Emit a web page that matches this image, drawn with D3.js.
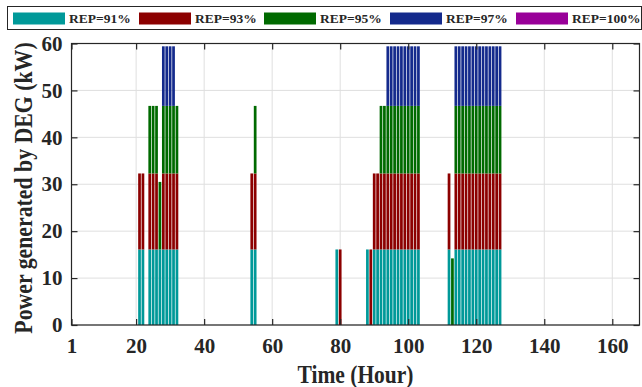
<!DOCTYPE html>
<html>
<head>
<meta charset="utf-8">
<script src="https://cdn.jsdelivr.net/npm/d3@7/dist/d3.min.js"></script>
<style>
  html, body { margin: 0; padding: 0; background: #fff; }
  svg { display: block; }
  text { font-family: "Liberation Serif", "Times New Roman", serif; font-weight: bold; fill: #262626; }
</style>
</head>
<body>
<svg id="chart" width="642" height="387"></svg>
<script>
// ---- data ----
const hours = [21,22,24,25,26,27,28,29,30,31,32,
               54,55,
               79,80,
               88,89,90,91,92,93,94,95,96,97,98,99,100,101,102,103,
               112,113,114,115,116,117,118,119,120,121,122,123,124,125,126,127];
const rep91 = [16.1,16.1,16.1,16.1,16.1,16.1,16.1,16.1,16.1,16.1,16.1,
               16.1,16.1,
               16.1,0,
               16.1,0,16.1,16.1,16.1,16.1,16.1,16.1,16.1,16.1,16.1,16.1,16.1,16.1,16.1,16.1,
               16.1,0,16.1,16.1,16.1,16.1,16.1,16.1,16.1,16.1,16.1,16.1,16.1,16.1,16.1,16.1];
const rep93 = [16.2,16.2,16.2,16.2,16.2,0,16.2,16.2,16.2,16.2,16.2,
               16.2,16.2,
               0,16.1,
               0,16.1,16.2,16.2,16.2,16.2,16.2,16.2,16.2,16.2,16.2,16.2,16.2,16.2,16.2,16.2,
               16.2,0,16.2,16.2,16.2,16.2,16.2,16.2,16.2,16.2,16.2,16.2,16.2,16.2,16.2,16.2];
const rep95 = [0,0,14.4,14.4,14.4,14.4,14.4,14.4,14.4,14.4,14.4,
               0,14.4,
               0,0,
               0,0,0,0,14.4,14.4,14.4,14.4,14.4,14.4,14.4,14.4,14.4,14.4,14.4,14.4,
               0,14.2,14.4,14.4,14.4,14.4,14.4,14.4,14.4,14.4,14.4,14.4,14.4,14.4,14.4,14.4];
const rep97 = [0,0,0,0,0,0,12.7,12.7,12.7,12.7,0,
               0,0,
               0,0,
               0,0,0,0,0,0,12.7,12.7,12.7,12.7,12.7,12.7,12.7,12.7,12.7,12.7,
               0,0,12.7,12.7,12.7,12.7,12.7,12.7,12.7,12.7,12.7,12.7,12.7,12.7,12.7,12.7];
const rep100 = [0,0,0,0,0,0,0,0,0,0,0,
                0,0,
                0,0,
                0,0,0,0,0,0,0,0,0,0,0,0,0,0,0,0,
                0,0,0,0,0,0,0,0,0,0,0,0,0,0,0,0];
const seriesNames = ["REP=91%","REP=93%","REP=95%","REP=97%","REP=100%"];
const seriesColors = ["#009999","#8c0000","#006a00","#142a8c","#990099"];
const xTicks = [1,20,40,60,80,100,120,140,160];
const yTicks = [0,10,20,30,40,50,60];
const xLabel = "Time (Hour)";
const yLabel = "Power generated by DEG (kW)";

// ---- layout ----
const svg = d3.select("#chart");
const L = 71.5, R = 639.5, T = 43.5, B = 325;
const x = d3.scaleLinear().domain([1,168]).range([L,R]);
const y = d3.scaleLinear().domain([0,60]).range([B,T]);
const axisColor = "#262626";

// table for stacking
const seriesVals = [rep91, rep93, rep95, rep97, rep100];
const table = hours.map((h,i) => {
  const o = {hour: h};
  seriesNames.forEach((n,k) => o[n] = seriesVals[k][i]);
  return o;
});
const stacked = d3.stack().keys(seriesNames)(table);

// grid
const grid = svg.append("g");
grid.selectAll(".gx").data(xTicks).enter().append("line")
  .attr("x1", d => x(d)).attr("x2", d => x(d)).attr("y1", T).attr("y2", B)
  .attr("stroke", "#dfdfdf").attr("stroke-width", 1);
grid.selectAll(".gy").data(yTicks).enter().append("line")
  .attr("x1", L).attr("x2", R).attr("y1", d => y(d)).attr("y2", d => y(d))
  .attr("stroke", "#dfdfdf").attr("stroke-width", 1);

// bars
const bw = (x(2) - x(1)) * 0.8;
svg.append("g").selectAll("g").data(stacked).enter().append("g")
  .attr("fill", (d,i) => seriesColors[i])
  .selectAll("rect").data(d => d.filter(p => p[1] - p[0] > 0)).enter().append("rect")
  .attr("x", d => x(d.data.hour) - bw/2)
  .attr("width", bw)
  .attr("y", d => y(d[1]))
  .attr("height", d => y(d[0]) - y(d[1]));

// axes box
svg.append("rect").attr("x", L).attr("y", T).attr("width", R-L).attr("height", B-T)
  .attr("fill", "none").attr("stroke", axisColor).attr("stroke-width", 1.2);

// inward ticks via d3 axes
const tl = 6;
const axB = svg.append("g").attr("transform", `translate(0,${B})`)
  .call(d3.axisBottom(x).tickValues(xTicks).tickSize(-tl).tickPadding(13).tickFormat(d3.format("d")));
const axT = svg.append("g").attr("transform", `translate(0,${T})`)
  .call(d3.axisTop(x).tickValues(xTicks).tickSize(-tl).tickFormat(""));
const axL = svg.append("g").attr("transform", `translate(${L},0)`)
  .call(d3.axisLeft(y).tickValues(yTicks).tickSize(-tl).tickPadding(9));
const axR = svg.append("g").attr("transform", `translate(${R},0)`)
  .call(d3.axisRight(y).tickValues(yTicks).tickSize(-tl).tickFormat(""));
[axB, axT, axL, axR].forEach(a => {
  a.select(".domain").remove();
  a.selectAll(".tick line").attr("stroke", axisColor).attr("stroke-width", 1.2);
  a.selectAll(".tick text").attr("fill", axisColor)
    .style("font-family", '"Liberation Serif", serif').style("font-weight", "bold").style("font-size", "21px");
});
axB.selectAll(".tick text").attr("dy", "0.71em");

// axis labels
svg.append("text").attr("transform", `translate(${(L+R)/2},383) scale(1,1.15)`).attr("text-anchor", "middle")
  .style("font-size", "21.5px").text(xLabel);
svg.append("text").attr("transform", `translate(31.5,188) rotate(-90) scale(1,1.15)`)
  .attr("text-anchor", "middle").style("font-size", "21.8px").text(yLabel);

// legend
const lg = svg.append("g");
lg.append("rect").attr("x", 7.5).attr("y", 6.5).attr("width", 634).attr("height", 23)
  .attr("fill", "#fff").attr("stroke", axisColor).attr("stroke-width", 1);
const legX = [13, 139, 264, 390, 516];
seriesNames.forEach((n,i) => {
  lg.append("rect").attr("x", legX[i]).attr("y", 12.5).attr("width", 52).attr("height", 12)
    .attr("fill", seriesColors[i]);
  lg.append("text").attr("x", legX[i] + 56).attr("y", 22.7)
    .style("font-size", "13.5px").text(n);
});
</script>
</body>
</html>
